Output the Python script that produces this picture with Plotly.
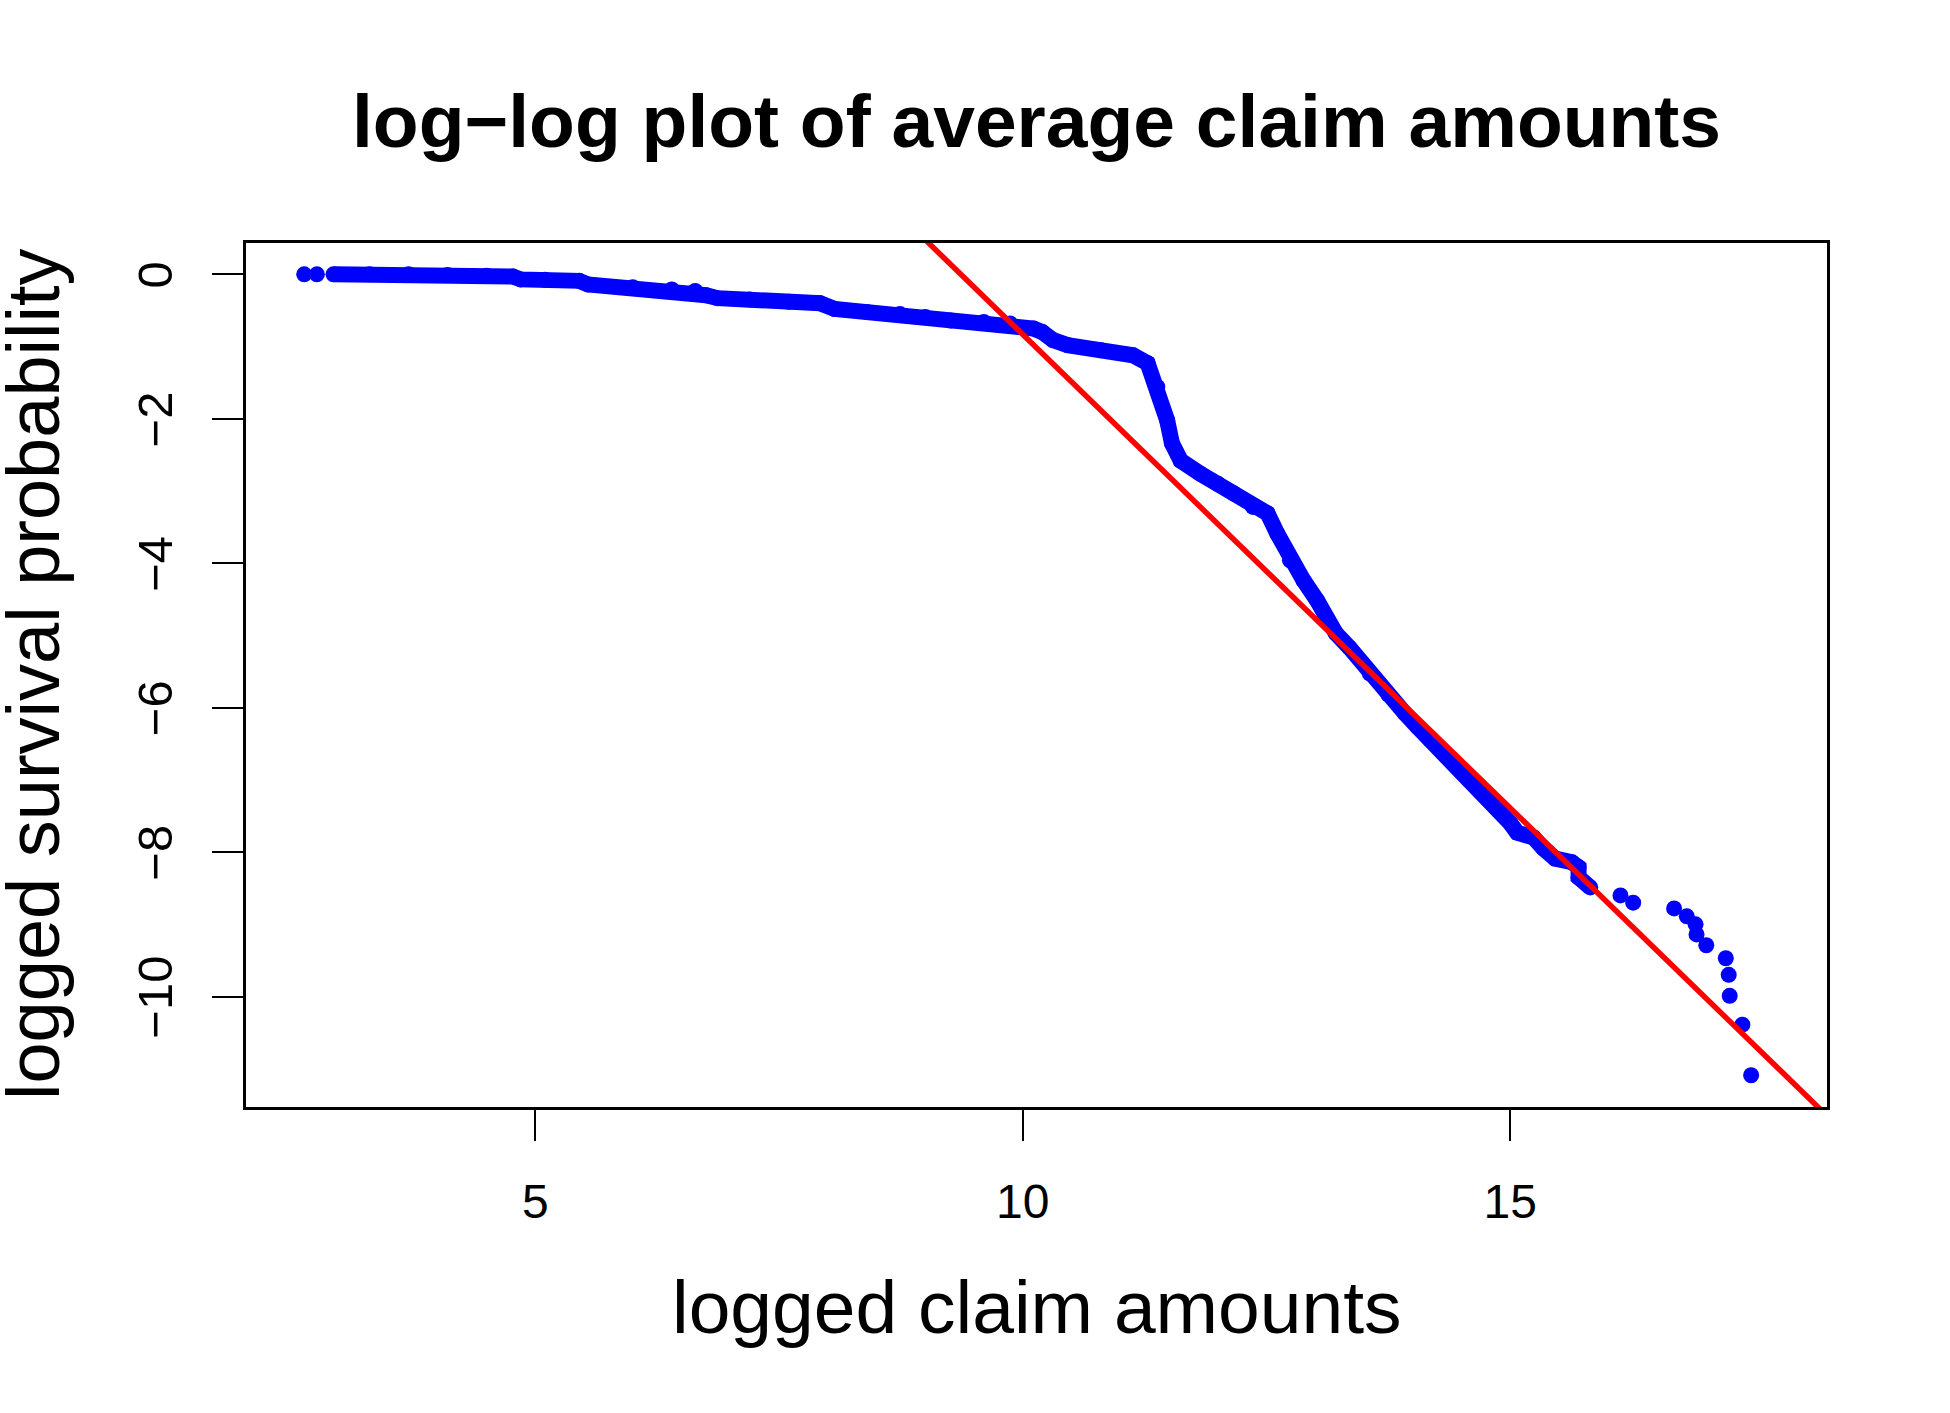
import plotly.graph_objects as go

# ---- data ----
# dense part of the empirical log-log survival curve
dense_x = [2.93, 3.3, 3.7, 4.1, 4.5, 4.77, 4.85, 5.1, 5.45, 5.54, 6.0, 6.4, 6.64,
           6.75, 6.87, 7.2, 7.6, 7.92, 8.07, 8.4, 8.74, 9.0, 9.26, 9.6, 9.87,
           10.11, 10.2, 10.31, 10.46, 10.8, 11.13, 11.28, 11.38, 11.48, 11.53,
           11.62, 11.82, 12.0, 12.16, 12.36, 12.51, 12.61, 12.74, 12.88, 13.02,
           13.21, 13.35, 13.56, 13.75, 13.92, 14.05, 14.18, 14.32, 14.47, 14.6,
           14.75, 14.88, 15.0, 15.07, 15.24, 15.34, 15.46, 15.63, 15.70, 15.70,
           15.82]
dense_y = [0.0, 0.0, 0.0, -0.01, -0.02, -0.03, -0.07, -0.075, -0.09, -0.14, -0.18,
           -0.21, -0.23, -0.29, -0.33, -0.35, -0.38, -0.40, -0.48, -0.52, -0.55,
           -0.59, -0.64, -0.66, -0.68, -0.75, -0.80, -0.91, -0.98, -1.05, -1.12,
           -1.23, -1.56, -2.02, -2.34, -2.58, -2.76, -2.90, -3.03, -3.22, -3.31,
           -3.59, -3.96, -4.24, -4.52, -4.97, -5.17, -5.53, -5.82, -6.08, -6.27,
           -6.45, -6.64, -6.83, -7.00, -7.19, -7.40, -7.60, -7.73, -7.80, -7.95,
           -8.09, -8.14, -8.21, -8.35, -8.49]
# isolated points (smallest and largest claims)
sparse_x = [2.63, 2.76, 16.13, 16.26, 16.68, 16.81, 16.90, 16.91, 17.01, 17.21,
            17.24, 17.25, 17.38, 17.47]
sparse_y = [0.0, 0.0, -8.60, -8.70, -8.78, -8.89, -9.00, -9.14, -9.29, -9.47,
            -9.70, -9.99, -10.39, -11.09]
# fitted straight line y = intercept + slope * x
line_intercept = 12.284
line_slope = -1.3117

x_ticks = [5, 10, 15]
y_ticks = [0, -2, -4, -6, -8, -10]
x_range = [2.033, 18.248]
y_range = [-11.53, 0.434]

title_text = "log\u2212log plot of average claim amounts"
xlab = "logged claim amounts"
ylab = "logged survival probability"

FONT = "Liberation Sans, Arial, Helvetica, sans-serif"
BLUE = "#0000FF"
RED = "#FF0000"
DOT = 16

fig = go.Figure()
fig.add_trace(go.Scatter(
    x=dense_x, y=dense_y, mode="lines+markers",
    line=dict(color=BLUE, width=DOT),
    marker=dict(color=BLUE, size=DOT, line=dict(width=0)),
    showlegend=False, hoverinfo="skip"))
fig.add_trace(go.Scatter(
    x=sparse_x, y=sparse_y, mode="markers",
    marker=dict(color=BLUE, size=DOT, line=dict(width=0)),
    showlegend=False, hoverinfo="skip"))
fig.add_trace(go.Scatter(
    x=x_range, y=[line_intercept + line_slope * v for v in x_range],
    mode="lines", line=dict(color=RED, width=5.5),
    showlegend=False, hoverinfo="skip"))

W, H = 1950, 1413
L, R, T, B = 246, 123, 243, 306
ph = H - T - B
pw = W - L - R

def py(p):
    return (H - B - p) / ph

def px(p):
    return (p - L) / pw

fig.update_layout(
    width=W, height=H, autosize=False,
    margin=dict(l=L, r=R, t=T, b=B, pad=0),
    plot_bgcolor="white", paper_bgcolor="white",
    font=dict(family=FONT, color="black"),
    xaxis=dict(range=x_range, tickvals=x_ticks, ticktext=[str(v) for v in x_ticks],
               showgrid=False, zeroline=False, showline=True, mirror=True,
               linecolor="black", linewidth=3, ticks="outside", ticklen=31,
               tickwidth=2, tickcolor="black", tickfont=dict(size=48, family=FONT),
               ticklabelstandoff=19, automargin=False),
    yaxis=dict(range=y_range, tickvals=y_ticks,
               ticktext=[("\u2212" + str(-v)) if v < 0 else str(v) for v in y_ticks],
               showgrid=False, zeroline=False, showline=True, mirror=True,
               linecolor="black", linewidth=3, ticks="outside", ticklen=31,
               tickwidth=2, tickcolor="black", tickfont=dict(size=49, family=FONT),
               tickangle=-90, ticklabelstandoff=20, ticklabelshift=8,
               automargin=False),
    annotations=[
        dict(text="<b>" + title_text + "</b>", xref="paper", yref="paper",
             x=0.5, y=py(121), xanchor="center", yanchor="middle",
             showarrow=False, font=dict(size=75, family=FONT)),
        dict(text=xlab, xref="paper", yref="paper", x=0.5, y=py(1307),
             xanchor="center", yanchor="middle", showarrow=False,
             font=dict(size=75, family=FONT)),
        dict(text=ylab, xref="paper", yref="paper", x=px(33), y=0.5,
             xanchor="center", yanchor="middle", textangle=-90, showarrow=False,
             font=dict(size=74, family=FONT)),
    ],
)

fig.write_html("out.html", config={"displayModeBar": False},
               post_script="document.body.style.margin='0px';")
